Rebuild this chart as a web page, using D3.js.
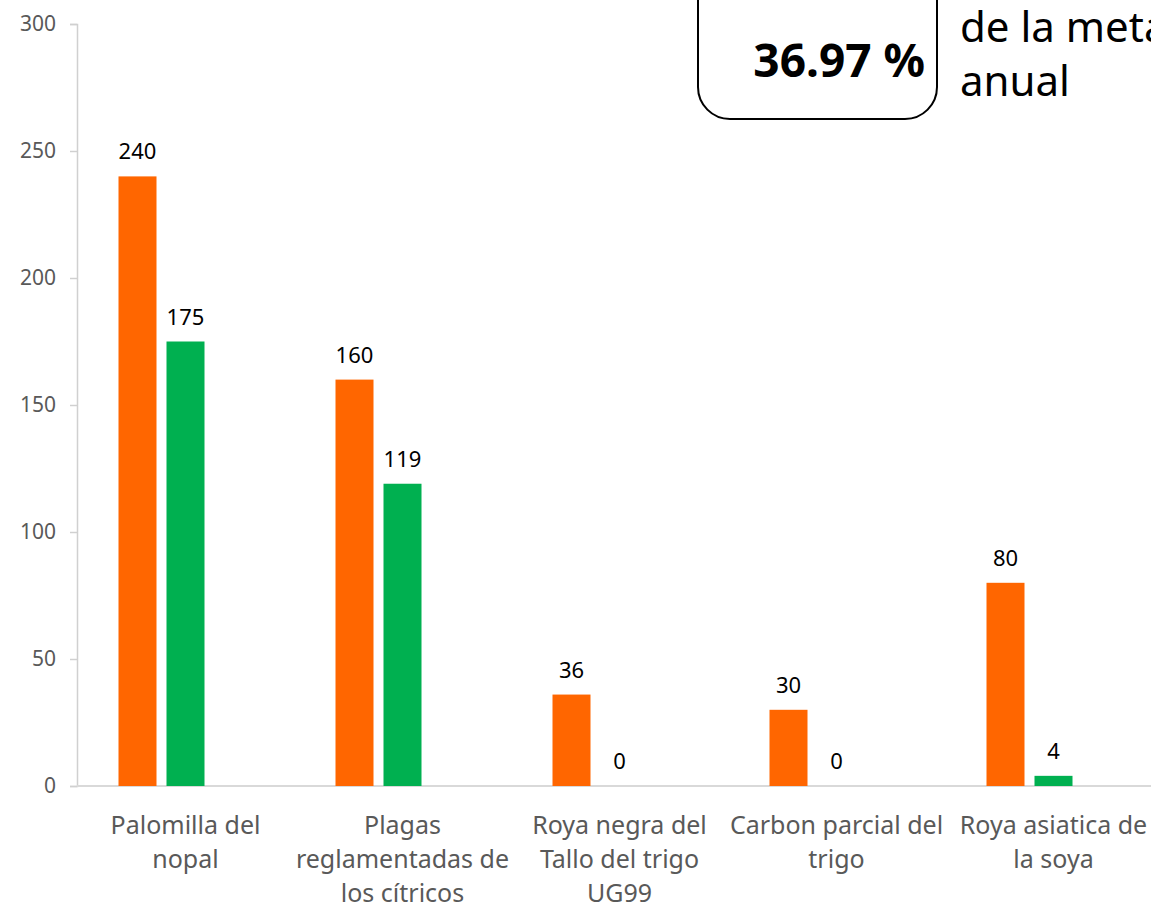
<!DOCTYPE html>
<html>
<head>
<meta charset="utf-8">
<script src="https://cdn.jsdelivr.net/npm/d3@7"></script>
<style>
body { margin: 0; background: #fff; overflow: hidden; }
svg { display: block; font-family: "Noto Sans", "Open Sans", sans-serif; }
</style>
</head>
<body>
<div id="chart"></div>
<script>
var categories = [
    ["Palomilla del", "nopal"],
    ["Plagas", "reglamentadas de", "los cítricos"],
    ["Roya negra del", "Tallo del trigo", "UG99"],
    ["Carbon parcial del", "trigo"],
    ["Roya asiatica de", "la soya"]
];
var programado = [240, 160, 36, 30, 80];
var realizado = [175, 119, 0, 0, 4];
var yTicks = [0, 50, 100, 150, 200, 250, 300];
var boxValue = "36.97 %";
var boxText = ["de la meta", "anual"];

var W = 1151, H = 905;
var svg = d3.select("#chart").append("svg")
    .attr("width", W)
    .attr("height", H);

var x0 = 77, bandW = 217;
var xScale = d3.scaleBand()
    .domain(d3.range(categories.length))
    .range([x0, x0 + bandW * categories.length]);

// three slots per group, the third one is empty
var xInner = d3.scaleBand()
    .domain([0, 1, 2])
    .range([-67, 67])
    .paddingInner(10 / 48);

var yScale = d3.scaleLinear()
    .domain([0, 300])
    .range([786, 24]);

// y axis
var yAxis = svg.append("g")
    .attr("transform", "translate(" + x0 + ",0)")
    .call(d3.axisLeft(yScale).tickValues(yTicks).tickSize(7).tickPadding(14));
yAxis.select(".domain").attr("stroke", "#d0d0d0").attr("stroke-width", 1.5);
yAxis.selectAll(".tick line").attr("stroke", "#d0d0d0").attr("stroke-width", 1.5);
yAxis.selectAll(".tick text")
    .attr("fill", "#595959")
    .style("font-size", "21px")
    .style("font-family", "'Noto Sans', sans-serif");

// baseline
svg.append("line")
    .attr("x1", x0).attr("x2", W)
    .attr("y1", yScale(0)).attr("y2", yScale(0))
    .attr("stroke", "#d9d9d9")
    .attr("stroke-width", 2);

var series = [
    {values: programado, color: "#FF6600", slot: 0},
    {values: realizado, color: "#00B050", slot: 1}
];

series.forEach(function(s) {
    var g = svg.append("g");
    g.selectAll("rect")
        .data(s.values)
        .enter().append("rect")
        .attr("x", function(d, i) { return xScale(i) + bandW / 2 + xInner(s.slot) })
        .attr("y", function(d) { return yScale(d) })
        .attr("width", xInner.bandwidth())
        .attr("height", function(d) { return yScale(0) - yScale(d) })
        .attr("fill", s.color);
    g.selectAll("text")
        .data(s.values)
        .enter().append("text")
        .attr("x", function(d, i) { return xScale(i) + bandW / 2 + xInner(s.slot) + xInner.bandwidth() / 2 })
        .attr("y", function(d) { return yScale(d) - 17 })
        .attr("text-anchor", "middle")
        .style("font-size", "22px")
        .attr("fill", "#000")
        .text(function(d) { return d });
});

// category labels
var catG = svg.append("g");
categories.forEach(function(lines, i) {
    var t = catG.append("text")
        .attr("text-anchor", "middle")
        .attr("fill", "#595959")
        .style("font-size", "25px");
    lines.forEach(function(line, j) {
        t.append("tspan")
            .attr("x", xScale(i) + bandW / 2)
            .attr("y", 834 + j * 34)
            .text(line);
    });
});

// annotation box, cut by the top of the image
svg.append("rect")
    .attr("x", 698)
    .attr("y", -60)
    .attr("width", 239)
    .attr("height", 179)
    .attr("rx", 32)
    .attr("fill", "#fff")
    .attr("stroke", "#000")
    .attr("stroke-width", 2);

svg.append("text")
    .attr("x", 925)
    .attr("y", 77)
    .attr("text-anchor", "end")
    .style("font-size", "46px")
    .style("font-weight", "bold")
    .text(boxValue);

svg.selectAll(".note")
    .data(boxText)
    .enter().append("text")
    .attr("class", "note")
    .attr("x", 960)
    .attr("y", function(d, i) { return 42 + i * 54 })
    .style("font-size", "42px")
    .text(function(d) { return d });
</script>
</body>
</html>
